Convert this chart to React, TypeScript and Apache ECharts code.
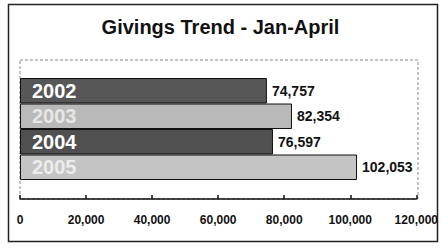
import React, { useEffect, useRef } from "react";
import * as echarts from "echarts";

const title = "Givings Trend - Jan-April";
const years = ["2002", "2003", "2004", "2005"];
const givings = [74757, 82354, 76597, 102053];
const axisMin = 0;
const axisMax = 120000;
const axisStep = 20000;

const barColors = ["#575757", "#b9b9b9", "#505050", "#c4c4c4"];
const yearLabelColors = ["#ffffff", "#e6e6e6", "#ffffff", "#ececec"];
const FONT = "'Liberation Sans', Arial, sans-serif";

const fmt = (v: number) => v.toLocaleString("en-US");

export default function App() {
  const ref = useRef<HTMLDivElement>(null);
  useEffect(() => {
    if (!ref.current) return;
    const chart = echarts.init(ref.current, undefined, { renderer: "svg" });
    chart.setOption({
      animation: false,
      backgroundColor: "#ffffff",
      title: {
        text: title,
        left: "center",
        top: 12,
        textStyle: { fontFamily: FONT, fontSize: 20, fontWeight: "bold", color: "#111" },
      },
      graphic: [
        {
          type: "rect",
          shape: { x: 8.5, y: 4.5, width: 429, height: 237 },
          style: { fill: "none", stroke: "#222", lineWidth: 1.5 },
          z: 0,
        },
        {
          type: "rect",
          shape: { x: 20, y: 60, width: 398, height: 139 },
          style: { fill: "none", stroke: "#888", lineWidth: 1, lineDash: [3, 2] },
          z: 0,
        },
      ],
      grid: { left: 20, right: 23, top: 78, bottom: 68 },
      xAxis: {
        type: "value",
        min: axisMin,
        max: axisMax,
        interval: axisStep,
        offset: 19,
        splitLine: { show: false },
        axisLine: { show: true, lineStyle: { color: "#111", width: 1.5 } },
        axisTick: { show: true, inside: true, length: 4, lineStyle: { color: "#111", width: 1.5 } },
        axisLabel: {
          margin: 15,
          fontFamily: FONT,
          fontSize: 12,
          fontWeight: "bold",
          color: "#111",
          formatter: (v: number) => fmt(v),
        },
      },
      yAxis: {
        type: "category",
        data: years,
        inverse: true,
        z: 10,
        axisLine: { show: false },
        axisTick: { show: false },
        axisLabel: {
          inside: true,
          interval: 0,
          margin: 12,
          fontFamily: FONT,
          fontSize: 20,
          fontWeight: "bold",
          color: (_v: string, i: number) => yearLabelColors[i],
        },
      },
      series: [
        {
          type: "bar",
          barCategoryGap: "0%",
          data: givings.map((v, i) => ({
            value: v,
            itemStyle: { color: barColors[i], borderColor: "#111", borderWidth: 1 },
          })),
          label: {
            show: true,
            position: "right",
            distance: 5,
            fontFamily: FONT,
            fontSize: 14,
            fontWeight: "bold",
            color: "#111",
            formatter: (p: any) => fmt(p.value),
          },
        },
      ],
    });
    return () => chart.dispose();
  }, []);
  return (
    <div
      ref={ref}
      style={{ position: "fixed", left: 0, top: 0, width: 441, height: 248, background: "#fff" }}
    />
  );
}
